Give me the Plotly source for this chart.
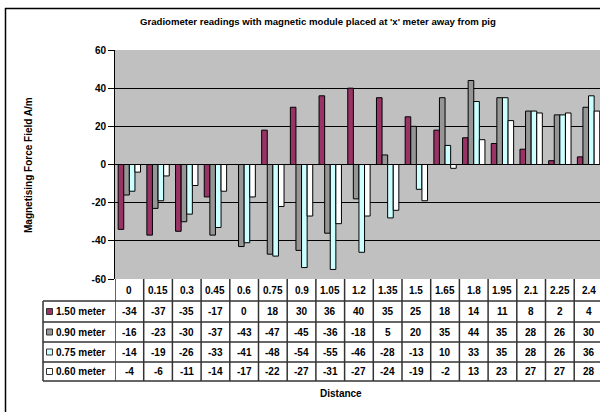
import plotly.graph_objects as go

distances = ["0", "0.15", "0.3", "0.45", "0.6", "0.75", "0.9", "1.05", "1.2", "1.35",
             "1.5", "1.65", "1.8", "1.95", "2.1", "2.25", "2.4"]
series_names = ["1.50 meter", "0.90 meter", "0.75 meter", "0.60 meter"]
s150 = [-34, -37, -35, -17, 0, 18, 30, 36, 40, 35, 25, 18, 14, 11, 8, 2, 4]
s090 = [-16, -23, -30, -37, -43, -47, -45, -36, -18, 5, 20, 35, 44, 35, 28, 26, 30]
s075 = [-14, -19, -26, -33, -41, -48, -54, -55, -46, -28, -13, 10, 33, 35, 28, 26, 36]
s060 = [-4, -6, -11, -14, -17, -22, -27, -31, -27, -24, -19, -2, 13, 23, 27, 27, 28]
series_values = [s150, s090, s075, s060]
colors = ["#993366", "#969696", "#CCFFFF", "#FFFFFF"]
y_ticks = [-60, -40, -20, 0, 20, 40, 60]

W, H = 600, 412
L, R, T, B = 115, 600, 50, 279  # plot area in pixels
FONT = "Liberation Sans, Arial, sans-serif"

def px2x(px):
    return (px - L) / (R - L)

def py2y(py):
    return (B - py) / (B - T)

fig = go.Figure()
for name, vals, col in zip(series_names, series_values, colors):
    fig.add_trace(go.Bar(x=distances, y=vals, name=name,
                         marker=dict(color=col, line=dict(color="black", width=1))))

n = len(distances)
colw = 28.7
xmax = -0.5 + (R - L) / colw

shapes = []
annotations = []
line_style = dict(color="#333333", width=1.5)
row_edges = [B, 301, 322, 342, 362, 381]
for py in row_edges[1:]:
    shapes.append(dict(type="line", xref="paper", yref="paper",
                       x0=px2x(43), x1=1.02, y0=py2y(py), y1=py2y(py), line=line_style))
for i in range(n):
    shapes.append(dict(type="line", xref="x", yref="paper",
                       x0=i - 0.5, x1=i - 0.5, y0=py2y(B), y1=py2y(381), line=line_style))
shapes.append(dict(type="line", xref="paper", yref="paper",
                   x0=px2x(43), x1=px2x(43), y0=py2y(301), y1=py2y(381), line=line_style))

def ann(x, y, text, xref="paper", size=10, xanchor="center", angle=0):
    return dict(x=x, y=y, xref=xref, yref="paper", text=text, showarrow=False,
                xanchor=xanchor, yanchor="middle", textangle=angle,
                font=dict(family=FONT, size=size, color="black"))

for i, d in enumerate(distances):
    annotations.append(ann(i, py2y(290.5), "<b>%s</b>" % d, xref="x"))
for r, (name, vals, col) in enumerate(zip(series_names, series_values, colors)):
    yc = (row_edges[r + 1] + row_edges[r + 2]) / 2
    for i, v in enumerate(vals):
        annotations.append(ann(i, py2y(yc), "<b>%d</b>" % v, xref="x"))
    annotations.append(ann(px2x(54), py2y(yc), "<b>%s</b>" % name, xanchor="left"))
    shapes.append(dict(type="rect", xref="paper", yref="paper",
                       x0=px2x(46.5), x1=px2x(52.5), y0=py2y(yc - 3), y1=py2y(yc + 3),
                       fillcolor=col, line=dict(color="#333333", width=1)))

shapes.append(dict(type="line", xref="paper", yref="paper", x0=px2x(5.5), x1=px2x(5.5),
                   y0=py2y(8), y1=py2y(415), line=dict(color="black", width=1.5)))
shapes.append(dict(type="line", xref="paper", yref="paper", x0=px2x(5), x1=px2x(605),
                   y0=py2y(8.5), y1=py2y(8.5), line=dict(color="black", width=1.5)))

annotations.append(ann(px2x(318), py2y(22),
                       "<b>Gradiometer readings with magnetic module placed at 'x' meter away from pig</b>",
                       size=9.6))
annotations.append(ann(px2x(28), py2y(165), "<b>Magnetising Force Field A/m</b>", angle=-90))
annotations.append(ann(px2x(341), py2y(393), "<b>Distance</b>"))

fig.update_layout(
    width=W, height=H,
    margin=dict(l=L, r=W - R, t=T, b=H - B, pad=0),
    paper_bgcolor="white", plot_bgcolor="#C0C0C0",
    barmode="group", bargap=0.22, bargroupgap=0,
    showlegend=False,
    shapes=shapes, annotations=annotations,
    font=dict(family=FONT, size=10, color="black"),
)
fig.update_xaxes(range=[-0.5, xmax], showticklabels=False, showgrid=False,
                 zeroline=False, showline=False, ticks="")
fig.update_yaxes(range=[-60, 60], tickvals=y_ticks, ticktext=["<b>%d</b>" % v for v in y_ticks],
                 showgrid=True, gridcolor="black", gridwidth=1, zeroline=True,
                 zerolinecolor="black", zerolinewidth=1,
                 showline=True, linecolor="black", linewidth=1,
                 ticks="outside", ticklen=6, tickcolor="black",
                 tickfont=dict(family=FONT, size=10, color="black"))

fig.write_html("out.html", config={"displayModeBar": False},
               post_script="document.body.style.margin='0';document.body.style.overflow='hidden';")
